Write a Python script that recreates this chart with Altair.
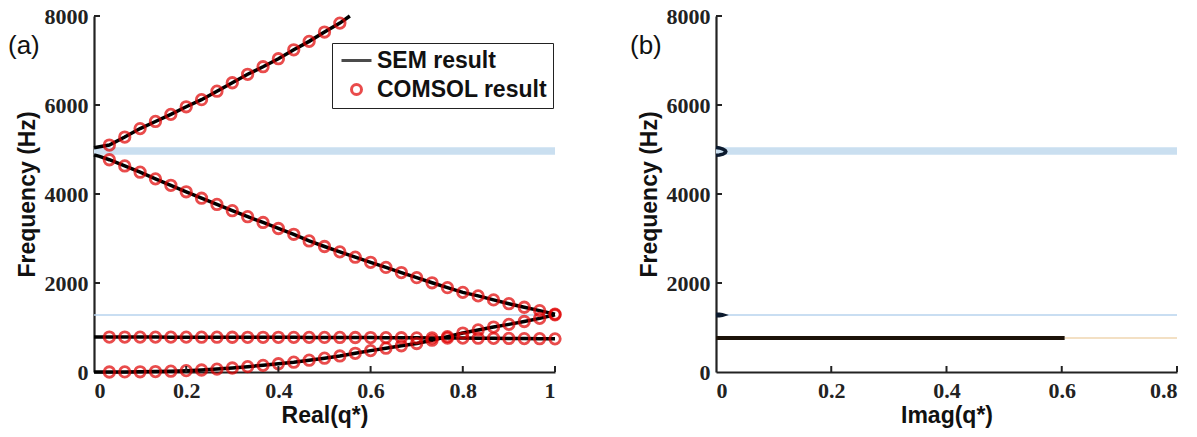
import altair as alt
import pandas as pd

# ---------------- data ----------------
# COMSOL sampling positions, Real(q*)
Q_PTS = [0.0333, 0.0667, 0.1, 0.1333, 0.1667, 0.2, 0.2333, 0.2667, 0.3, 0.3333,
         0.3667, 0.4, 0.4333, 0.4667, 0.5, 0.5333, 0.5667, 0.6, 0.6333, 0.6667,
         0.7, 0.7333, 0.7667, 0.8, 0.8333, 0.8667, 0.9, 0.9333, 0.9667, 1.0]

# branch 1: upper optical branch (only first 16 samples within 8000 Hz)
F_UPPER = [5100, 5280, 5470, 5630, 5790, 5960, 6120, 6310, 6500, 6690,
           6860, 7040, 7240, 7430, 7640, 7840]
# branch 2: descending branch
F_DESC = [4770, 4630, 4490, 4340, 4195, 4050, 3905, 3765, 3625, 3490,
          3360, 3225, 3095, 2945, 2820, 2700, 2580, 2465, 2350, 2235,
          2120, 2005, 1895, 1790, 1710, 1620, 1535, 1455, 1380, 1300]
# branch 3: flat (locally resonant) branch
F_FLAT = [785, 785, 784, 784, 783, 783, 782, 782, 781, 780,
          780, 780, 779, 778, 777, 776, 775, 774, 772, 770,
          768, 766, 764, 762, 760, 757, 754, 751, 748, 745]
# branch 4: rising (flexural) branch
F_RISE = [0, 2, 5, 10, 18, 30, 45, 65, 90, 120,
          150, 185, 220, 265, 310, 360, 420, 480, 535, 590,
          640, 715, 795, 875, 945, 1010, 1070, 1135, 1205, 1285]

# SEM curve end points (band edges at q = 0 and the top of the frame)
SEM_UPPER_START_Q = [0.0, 0.012]
SEM_UPPER_START_F = [5040, 5060]
SEM_UPPER_END_Q = [0.555]
SEM_UPPER_END_F = [8000]
SEM_DESC_START_Q = [0.0, 0.012]
SEM_DESC_START_F = [4880, 4845]
SEM_FLAT_START_F = 786
SEM_RISE_START_F = 0

# band gaps (Hz): wide one near 5 kHz, thin one near 1.28 kHz
BAND_WIDE = [4880, 5050]
BAND_THIN = [1264, 1300]

# panel (b): imaginary parts
IMAG_LOOP_Q = [0.0, 0.006, 0.012, 0.016, 0.017, 0.016, 0.012, 0.006, 0.0]
IMAG_LOOP_F = [5045, 5035, 5010, 4980, 4955, 4925, 4895, 4875, 4870]
IMAG_BLOB_Q = [0.0, 0.006, 0.011, 0.013, 0.011, 0.006, 0.0]
IMAG_BLOB_F = [1300, 1297, 1290, 1281, 1272, 1266, 1263]
IMAG_FLAT_Q = [0.0, 0.605]
IMAG_FLAT_F = [764, 764]
IMAG_TAIL_Q = [0.605, 0.8]
IMAG_TAIL_F = [764, 764]

Y_TICKS = [0, 2000, 4000, 6000, 8000]
XA_TICKS = [0, 0.2, 0.4, 0.6, 0.8, 1]
XB_TICKS = [0, 0.2, 0.4, 0.6, 0.8]

SERIES = ["SEM result", "COMSOL result"]

# ---------------- styles ----------------
W, H = 461, 356
RED = "#e00000"
BAND_COLOR = "#cadff0"
BAND_THIN_COLOR = "#b7d3ee"
AXC = "#222222"
TICK_LEN = 6

# ---------------- tables ----------------
pts = pd.DataFrame({
    "q": Q_PTS[:len(F_UPPER)] + Q_PTS + Q_PTS + Q_PTS,
    "f": F_UPPER + F_DESC + F_FLAT + F_RISE,
    "series": "COMSOL result",
})


def branch(name, qs, fs):
    return pd.DataFrame({"q": qs, "f": fs, "branch": name, "idx": range(len(qs))})


sem = pd.concat([
    branch("upper", SEM_UPPER_START_Q + Q_PTS[:len(F_UPPER)] + SEM_UPPER_END_Q,
           SEM_UPPER_START_F + F_UPPER + SEM_UPPER_END_F),
    branch("desc", SEM_DESC_START_Q + Q_PTS, SEM_DESC_START_F + F_DESC),
    branch("flat", [0.0] + Q_PTS, [SEM_FLAT_START_F] + F_FLAT),
    branch("rise", [0.0] + Q_PTS, [SEM_RISE_START_F] + F_RISE),
])

imag_loops = pd.concat([
    branch("loop", IMAG_LOOP_Q, IMAG_LOOP_F),
    branch("blob", IMAG_BLOB_Q, IMAG_BLOB_F),
])
imag_flat = branch("flat", IMAG_FLAT_Q, IMAG_FLAT_F)
imag_tail = branch("tail", IMAG_TAIL_Q, IMAG_TAIL_F)

yticks = pd.DataFrame({"t": Y_TICKS[1:]})
xa_ticks = pd.DataFrame({"t": XA_TICKS[1:]})
xb_ticks = pd.DataFrame({"t": XB_TICKS[1:]})

# ---------------- axes ----------------
ysc = alt.Scale(domain=[0, 8000], nice=False, zero=False)
xsa = alt.Scale(domain=[0, 1], nice=False)
xsb = alt.Scale(domain=[0, 0.8], nice=False)

yaxis = alt.Axis(values=Y_TICKS, format="d", title="Frequency (Hz)", titlePadding=5)
xaxa = alt.Axis(values=XA_TICKS, format="~g", title="Real(q*)")
xaxb = alt.Axis(values=XB_TICKS, format="~g", title="Imag(q*)")


def Y(field):
    return alt.Y(field, type="quantitative", scale=ysc, axis=yaxis)


def panel(xs, xax, xmax, tick_df, label):
    def X(field):
        return alt.X(field, type="quantitative", scale=xs, axis=xax)

    layers = []
    for rng, col in ((BAND_WIDE, BAND_COLOR), (BAND_THIN, BAND_THIN_COLOR)):
        df = pd.DataFrame({"x0": [0.0], "x1": [xmax], "f0": [rng[0]], "f1": [rng[1]]})
        layers.append(alt.Chart(df).mark_rect(color=col).encode(
            x=X("x0"), x2="x1", y=Y("f0"), y2="f1"))
    yt = alt.Chart(yticks).mark_rule(color=AXC, strokeWidth=2).encode(
        y=Y("t"), x=alt.value(0), x2=alt.value(TICK_LEN))
    xt = alt.Chart(tick_df).mark_rule(color=AXC, strokeWidth=2).encode(
        x=X("t"), y=alt.value(H), y2=alt.value(H - TICK_LEN))
    lab = alt.Chart(pd.DataFrame({"label": [label]})).mark_text(
        font="Liberation Sans", fontSize=26, align="left", baseline="alphabetic",
        color="#111111").encode(x=alt.value(-86), y=alt.value(38), text="label:N")
    return X, layers, yt, xt, lab


Xa, bands_a, yt_a, xt_a, lab_a = panel(xsa, xaxa, 1.0, xa_ticks, "(a)")
Xb, bands_b, yt_b, xt_b, lab_b = panel(xsb, xaxb, 0.8, xb_ticks, "(b)")

leg = alt.Legend(title=None, orient="none", legendX=238, legendY=27,
                 labelFont="Liberation Sans", labelFontWeight="bold",
                 labelFontSize=23, labelColor="#111111", labelLimit=0,
                 symbolSize=100, symbolStrokeWidth=3, padding=6, rowPadding=5,
                 strokeColor="#222222", labelOffset=9, symbolOffset=7)

sem_lines = alt.Chart(sem).mark_line(color="black", strokeWidth=3.5).encode(
    x=Xa("q"), y=Y("f"), detail="branch:N", order="idx:Q")

comsol = alt.Chart(pts).mark_point(filled=False, size=110, strokeWidth=2.8).encode(
    x=Xa("q"), y=Y("f"),
    color=alt.Color("series:N", scale=alt.Scale(domain=SERIES, range=["black", RED]),
                    legend=leg),
    shape=alt.Shape("series:N", scale=alt.Scale(domain=SERIES,
                                                range=["M-3,0L3,0", "circle"]),
                    legend=leg),
)

panel_a = alt.layer(*bands_a, sem_lines, comsol, yt_a, xt_a, lab_a).properties(
    width=W, height=H)

loops_ch = alt.Chart(imag_loops).mark_line(strokeWidth=3.5, color="#0c1a2e").encode(
    x=Xb("q"), y=Y("f"), detail="branch:N", order="idx:Q")
flat_ch = alt.Chart(imag_flat).mark_line(strokeWidth=4, color="#1c1209").encode(
    x=Xb("q"), y=Y("f"), order="idx:Q")
tail_ch = alt.Chart(imag_tail).mark_line(strokeWidth=2.2, color="#f3e0c4").encode(
    x=Xb("q"), y=Y("f"), order="idx:Q")

panel_b = alt.layer(*bands_b, tail_ch, flat_ch, loops_ch, yt_b, xt_b, lab_b).properties(
    width=W, height=H)

chart = alt.hconcat(panel_a, panel_b, spacing=161, bounds="flush").properties(
    padding={"left": 8, "top": 5, "right": 0, "bottom": 5}
).configure_view(stroke=None).configure_axis(
    domainColor=AXC, domainWidth=2.2, tickSize=0, grid=False,
    labelFont="Liberation Serif", labelFontWeight="bold", labelFontSize=22,
    labelColor="#222222", labelPadding=6,
    titleFont="Liberation Sans", titleFontWeight="bold", titleFontSize=23,
    titleColor="#111111",
).configure_axisX(labelPadding=8, titlePadding=3)

chart.save("out.html", embed_options={"renderer": "svg", "actions": False})
